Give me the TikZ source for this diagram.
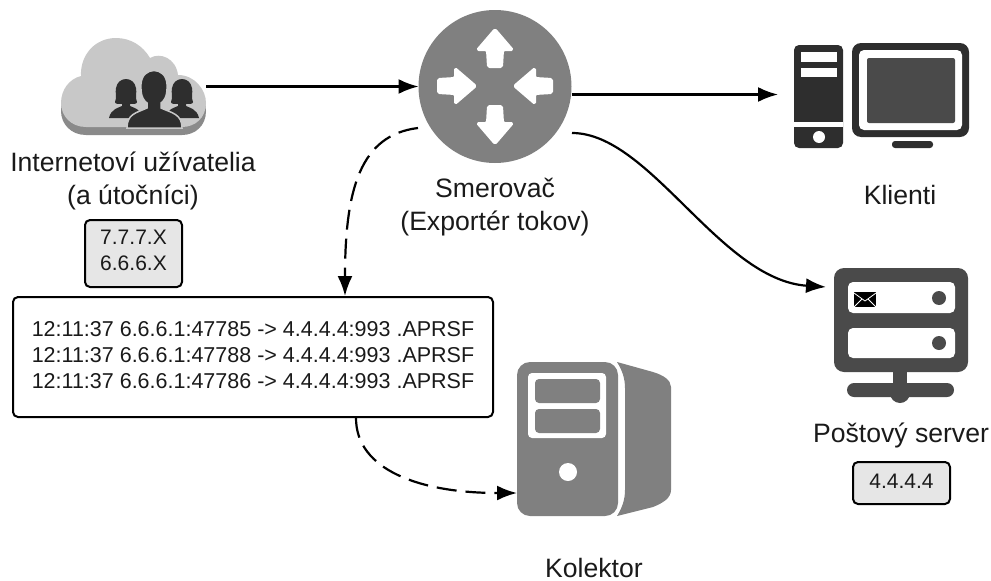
\documentclass[tikz,border=0pt]{standalone}
\usepackage{fontspec}
\setmainfont{Liberation Sans}
\usetikzlibrary{arrows.meta, positioning}
\definecolor{iconGray}{HTML}{808080}
\definecolor{iconDark}{HTML}{2E2E2E}
\definecolor{iconSlate}{HTML}{4A4A4A}
\definecolor{cloudTop}{HTML}{C8C8C8}
\definecolor{cloudEdge}{HTML}{8A8A8A}
\definecolor{tagFill}{HTML}{E6E6E6}
\definecolor{inkText}{HTML}{1A1A1A}
\tikzset{
    iconSpot/.style={inner sep=0pt, outer sep=0pt},
    flowEdge/.style={-{Latex[length=20pt, width=15pt]}, line width=2.2pt},
    flowDash/.style={flowEdge, dash pattern=on 20pt off 9pt},
    iconLabel/.style={font=\fontsize{26.6}{33}\selectfont, text=inkText, align=center, inner sep=0pt},
    ipTag/.style={draw=black, line width=2pt, fill=tagFill, rounded corners=5pt, text=inkText, align=center, inner sep=0pt, font=\fontsize{21}{26}\selectfont},
    logBox/.style={draw=black, line width=2pt, fill=white, rounded corners=5pt, text=inkText, align=left, inner sep=0pt, font=\fontsize{21.5}{26}\selectfont},
    holeArrow/.style={fill=white, draw=white, line width=2pt, line join=round, rounded corners=1.5pt},
}
\newcommand{\liftText}[1]{\rule[-#1]{0pt}{#1}}
\newcommand{\routerArrow}[3]{
    \path[holeArrow, shift={(#1,#2)}, rotate=#3] (0,-19) -- (18,2) -- (8,2) -- (7,19) -- (-7,19) -- (-8,2) -- (-18,2) -- cycle;
}
\newcommand{\cloudOutline}{
    (86,127) .. controls (71,127) and (61,116) .. (61,103) .. controls (61,90) and (69,79) .. (81,76) .. controls (80,55) and (95,38) .. (116,38) .. controls (131,38) and (143,46) .. (150,58) .. controls (160,52) and (176,58) .. (178,75) .. controls (195,75) and (206,90) .. (206,103) .. controls (206,118) and (195,127) .. (182,127) -- cycle
}
\newcommand{\personSide}[1]{
    \fill[iconDark, shift={(#1,0)}] (-17,118) .. controls (-15,109) and (-8,108) .. (-4,106) -- (-4,104) .. controls (-8,104) and (-11,104) .. (-11,102) .. controls (-9,98) and (-11,92) .. (-10,88) .. controls (-8,76) and (8,76) .. (10,88) .. controls (11,92) and (9,98) .. (11,102) .. controls (11,104) and (8,104) .. (4,104) -- (4,106) .. controls (8,108) and (15,109) .. (17,118) -- cycle;
}

\begin{document}
\begin{tikzpicture}[x=1pt, y=-1pt]
        \useasboundingbox (0,0) rectangle (991,581);
        
        % cloud with its users
        \fill[cloudEdge, shift={(0,8)}] \cloudOutline;
        \fill[cloudTop] \cloudOutline;
        \personSide{126}
        \personSide{182}
        \fill[iconDark, draw=cloudTop, line width=1.5pt] (127,128) .. controls (127,114) and (136,113) .. (147,108) -- (147,103) .. controls (140,98) and (141,88) .. (141,84) .. controls (142,66) and (166,66) .. (167,84) .. controls (167,88) and (168,98) .. (161,103) -- (161,108) .. controls (172,113) and (182,114) .. (182,128) -- cycle;
        \node[iconSpot, minimum width=145pt, minimum height=97pt] (cloud) at (133.5,86.5) {};
        
        % router
        \node[iconSpot, circle, fill=iconGray, minimum size=153pt] (router) at (495,86.5) {};
        \routerArrow{495}{48}{0}
        \routerArrow{495}{125}{180}
        \routerArrow{457}{86}{-90}
        \routerArrow{533}{86}{90}
        
        % client computer
        \fill[iconDark, rounded corners=5pt] (794,45) rectangle (843,148);
        \fill[white] (794,122) rectangle (843,127);
        \fill[white] (801,52) rectangle (837,62);
        \fill[white] (801,68) rectangle (837,77);
        \fill[white] (819,137) circle (6);
        \fill[iconDark, rounded corners=9pt] (852,43) rectangle (969,137);
        \fill[white, rounded corners=5pt] (859,50) rectangle (962,130);
        \fill[iconSlate, rounded corners=2pt] (867,58) rectangle (955,123);
        \fill[iconDark, rounded corners=3pt] (892,141) rectangle (933,148);
        \node[iconSpot, minimum width=183pt, minimum height=105pt] (client) at (877.5,94.5) {};
        
        % mail server
        \fill[iconSlate, rounded corners=10pt] (834,268) rectangle (968,372);
        \fill[white, rounded corners=5pt] (848,282) rectangle (955,313);
        \fill[white, rounded corners=5pt] (848,328) rectangle (955,358);
        \fill[iconSlate] (939,298) circle (7);
        \fill[iconSlate] (939,343) circle (7);
        \fill[iconSlate] (893,370) rectangle (907,390);
        \fill[iconSlate, rounded corners=7pt] (847,383) rectangle (954,397);
        \fill[iconSlate] (900,393) circle (10);
        \fill[black] (854,292) rectangle (876,307);
        \draw[white, line width=0.8pt] (854,293) -- (865,301) -- (876,293) (854,307) -- (862,299) (876,307) -- (868,299);
        \node[iconSpot, minimum width=134pt, minimum height=135pt] (server) at (901,335.5) {};
        
        % collector
        \fill[iconGray] (617,362) -- (653,372) .. controls (663,375) and (671,380) .. (671,387) -- (671,490) .. controls (671,498) and (663,503) .. (653,507) -- (617,516) .. controls (622,508) and (625,500) .. (625,490) -- (625,388) .. controls (625,378) and (622,370) .. (617,362) -- cycle;
        \fill[iconGray, rounded corners=13pt] (517,362) rectangle (618,516);
        \fill[white, rounded corners=4pt] (528,373) rectangle (606,438);
        \fill[iconGray, rounded corners=4pt] (535,379) rectangle (600,403);
        \fill[iconGray, rounded corners=4pt] (535,409) rectangle (600,433);
        \fill[white] (568,472) circle (9);
        \node[iconSpot, minimum width=154pt, minimum height=154pt] (collector) at (594,439) {};
        
        % texts
        \node[iconLabel] (usersLabel) at (133,181) {Internetoví užívatelia\\(a útočníci)};
        \node[iconLabel] (routerLabel) at (495,207) {Smerovač\\(Exportér tokov)};
        \node[iconLabel] (clientLabel) at (900,195) {Klienti};
        \node[iconLabel] (serverLabel) at (901,435) {Poštový server};
        \node[iconLabel] (collectorLabel) at (594,568) {Kolektor};
        \node[ipTag, minimum width=97pt, minimum height=67pt] (usersTag) at (133.5,253.5) {7.7.7.X\\6.6.6.X\liftText{6pt}};
        \node[ipTag, minimum width=97pt, minimum height=42pt] (serverTag) at (901.5,483) {4.4.4.4\liftText{4pt}};
        \node[logBox, minimum width=480pt, minimum height=120pt] (flowLog) at (253,357) {12:11:37 6.6.6.1:47785 -> 4.4.4.4:993 .APRSF\\12:11:37 6.6.6.1:47788 -> 4.4.4.4:993 .APRSF\\12:11:37 6.6.6.1:47786 -> 4.4.4.4:993 .APRSF\liftText{5pt}};
        
        % connectors
        \draw[flowEdge] (cloud.east) -- (router.west);
        \draw[flowEdge] ([yshift=-8pt]router.east) -- ([xshift=-8pt]client.west);
        \draw[flowEdge] ([xshift=77pt, yshift=-46.5pt]router.center) .. controls (650,133) and (720,280) .. ([xshift=-8pt, yshift=48.5pt]server.west);
        \draw[flowDash] ([xshift=-77pt, yshift=-41.5pt]router.center) .. controls (360,135) and (345,190) .. ([xshift=92pt]flowLog.north);
        \draw[flowDash] ([xshift=103pt]flowLog.south) .. controls (356,470) and (420,493) .. ([yshift=-54pt]collector.west);
        
    \end{tikzpicture}
\end{document}
